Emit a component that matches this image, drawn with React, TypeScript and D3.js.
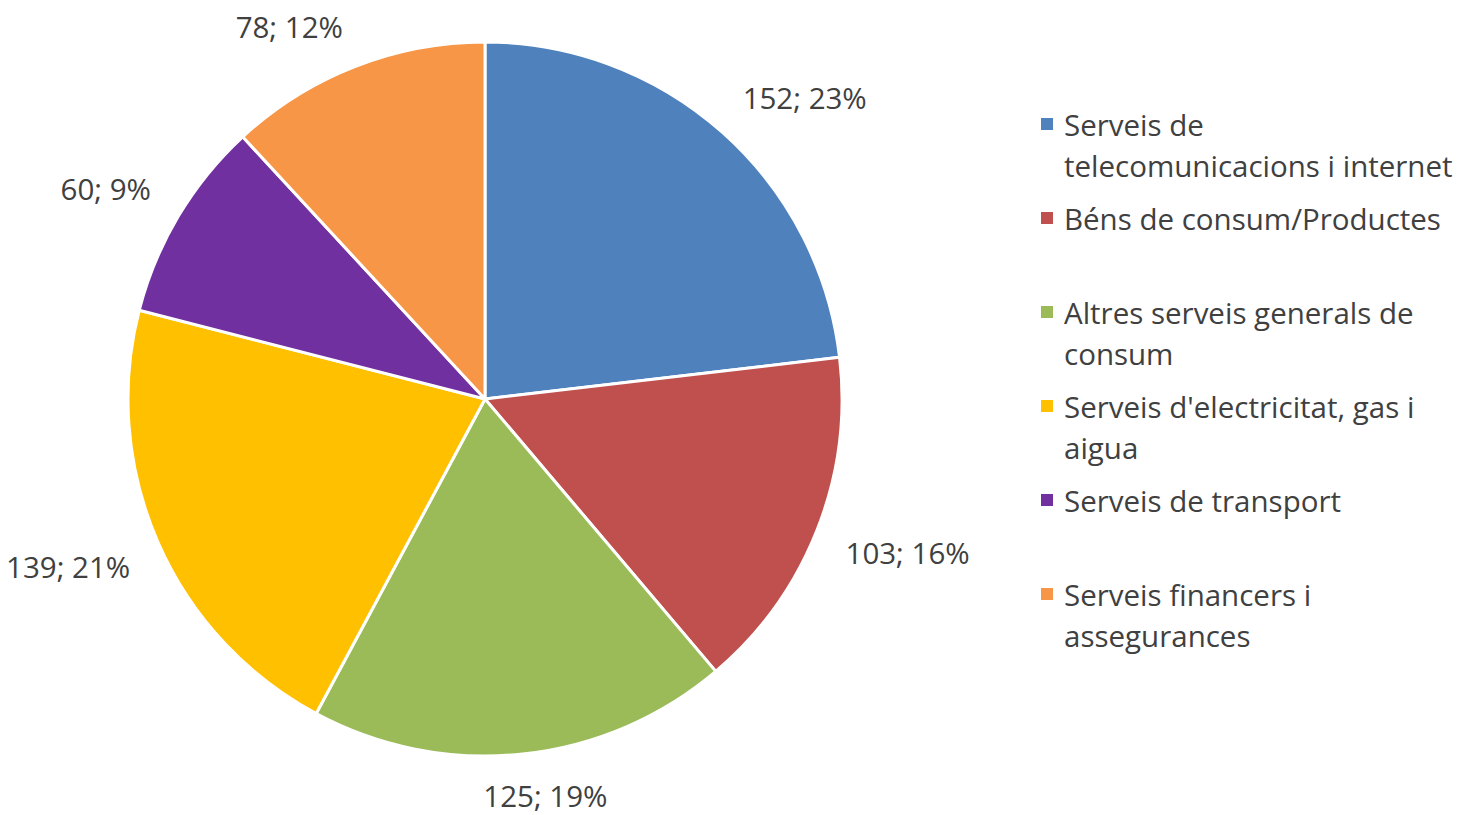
import * as React from "react";
import { arc, pie, PieArcDatum } from "d3";

const categories = [
  "Serveis de telecomunicacions i internet",
  "Béns de consum/Productes",
  "Altres serveis generals de consum",
  "Serveis d'electricitat, gas i aigua",
  "Serveis de transport",
  "Serveis financers i assegurances",
];
const values = [152, 103, 125, 139, 60, 78];
const percents = ["23%", "16%", "19%", "21%", "9%", "12%"];
// legend text as wrapped in the original
const legendLines = [
  ["Serveis de", "telecomunicacions i internet"],
  ["Béns de consum/Productes"],
  ["Altres serveis generals de", "consum"],
  ["Serveis d'electricitat, gas i", "aigua"],
  ["Serveis de transport"],
  ["Serveis financers i", "assegurances"],
];
const colors = ["#4F81BD", "#C0504D", "#9BBB59", "#FFC000", "#7030A0", "#F79646"];

const W = 1461;
const H = 815;
const cx = 485;
const cy = 399;
const radius = 357;
const font = "'Open Sans', sans-serif";
const textColor = "#404040";
const fontSize = 29.5;

interface Row {
  name: string;
  value: number;
  pct: string;
  color: string;
}

const rows: Row[] = categories.map((name, i) => ({
  name,
  value: values[i],
  pct: percents[i],
  color: colors[i],
}));

function clamp(v: number) {
  return Math.max(-1, Math.min(1, v));
}

function Slices({ arcs }: { arcs: PieArcDatum<Row>[] }) {
  const path = arc<PieArcDatum<Row>>().innerRadius(0).outerRadius(radius);
  return (
    <g transform={`translate(${cx}, ${cy})`}>
      {arcs.map((a) => (
        <path
          key={a.data.name}
          d={path(a) || ""}
          fill={a.data.color}
          stroke="#fff"
          strokeWidth={3}
          strokeLinejoin="round"
        />
      ))}
    </g>
  );
}

// outside-end labels: the box corner nearest the pie sits on the mid-angle ray
function Labels({ arcs }: { arcs: PieArcDatum<Row>[] }) {
  const r = radius + 30;
  return (
    <g transform={`translate(${cx}, ${cy})`}>
      {arcs.map((a) => {
        const mid = (a.startAngle + a.endAngle) / 2;
        const dx = Math.sin(mid);
        const dy = -Math.cos(mid);
        const label = `${a.data.value}; ${a.data.pct}`;
        const w = label.length * fontSize * 0.53;
        const h = 24;
        const x = dx * r + clamp(dx * 3) * (w / 2);
        const y = dy * r + clamp(dy * 3) * (h / 2);
        return (
          <text
            key={a.data.name}
            x={x}
            y={y}
            textAnchor="middle"
            dominantBaseline="central"
            fontFamily={font}
            fontSize={fontSize}
            fill={textColor}
          >
            {label}
          </text>
        );
      })}
    </g>
  );
}

function Legend() {
  const x0 = 1041;
  const y0 = 124;
  const step = 94;
  const lineH = 41;
  return (
    <g>
      {rows.map((d, i) => (
        <g key={d.name} transform={`translate(${x0}, ${y0 + i * step})`}>
          <rect x={0} y={-6} width={12} height={12} fill={d.color} />
          {legendLines[i].map((line, j) => (
            <text
              key={line}
              x={23}
              y={j * lineH}
              dominantBaseline="central"
              fontFamily={font}
              fontSize={fontSize}
              fill={textColor}
            >
              {line}
            </text>
          ))}
        </g>
      ))}
    </g>
  );
}

export default function App() {
  const arcs = pie<Row>()
    .value((d) => d.value)
    .sort(null)(rows);

  return (
    <svg
      width={W}
      height={H}
      style={{ position: "absolute", left: 0, top: 0, background: "#fff" }}
    >
      <Slices arcs={arcs} />
      <Labels arcs={arcs} />
      <Legend />
    </svg>
  );
}
